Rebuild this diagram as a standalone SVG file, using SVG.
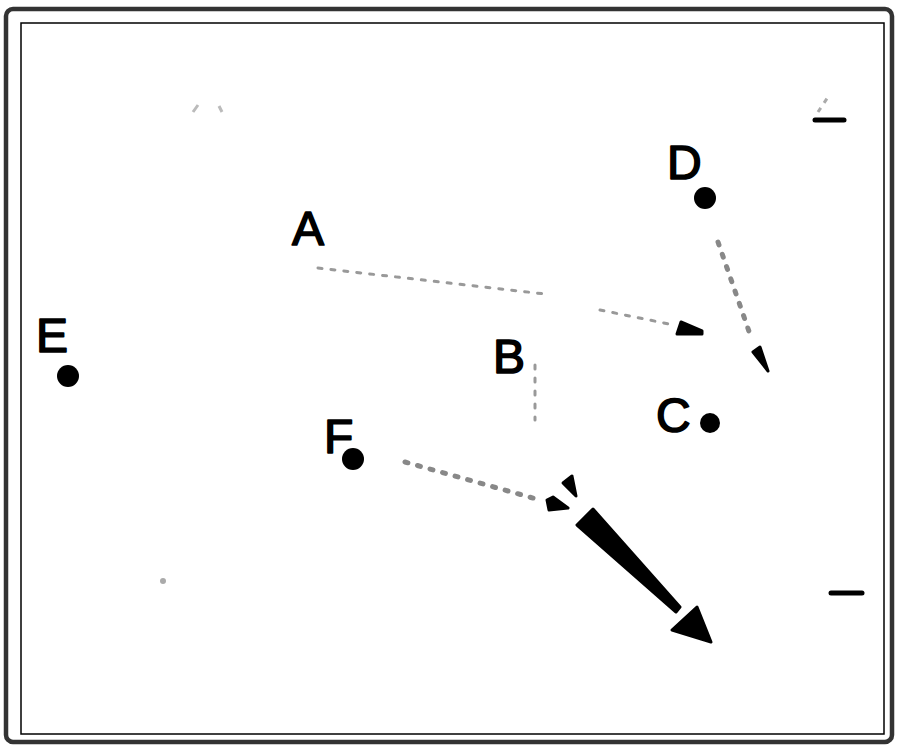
<svg xmlns="http://www.w3.org/2000/svg" width="900" height="752" viewBox="0 0 900 752">
<style>
.lbl{font-family:"Liberation Sans",Arial,sans-serif;font-size:48px;fill:#000;stroke:#000;stroke-width:1.6;stroke-linejoin:round}
.dot{fill:#000}
.faint{fill:none;stroke:#999;stroke-width:3;stroke-dasharray:4 9;stroke-linecap:round}
.blob{fill:none;stroke:#888;stroke-width:5;stroke-dasharray:3 10;stroke-linecap:round}
.head{fill:#000;stroke:#000;stroke-width:3;stroke-linejoin:round}
.bar{stroke:#000;stroke-width:5;stroke-linecap:round}
</style>
<rect x="0" y="0" width="900" height="752" fill="#fff"/>
<g id="frame">
<rect x="6" y="9" width="886" height="733" rx="7" fill="none" stroke="#333" stroke-width="4.5"/>
<rect x="21" y="23" width="863" height="711" fill="none" stroke="#000" stroke-width="1.5"/>
</g>
<g id="connectors">
<path class="faint" d="M318 268 L545 294 M600 310 L674 325"/>
<polygon class="head" points="681,322 702,331 702,334 677,334"/>
<path class="blob" d="M718 242 L752 340"/>
<polygon class="head" points="753,352 760,347 768,371"/>
<path class="blob" d="M405 462 L540 500"/>
<polygon class="head" points="547,500 553,497 568,508 549,510"/>
<path class="faint" d="M535 365 L535 420"/>
<polygon class="head" points="563,483 572,476 576,496"/>
<polygon class="head" points="577,525 593,509 680,607 676,612"/>
<polygon class="head" points="672,630 697,607 711,642"/>
</g>
<g id="node-A"><text class="lbl" x="292" y="245">A</text></g>
<g id="node-B"><text class="lbl" x="493" y="373">B</text></g>
<g id="node-C"><text class="lbl" x="656" y="432">C</text><circle class="dot" cx="710" cy="423" r="10"/></g>
<g id="node-D"><text class="lbl" x="667" y="179">D</text><circle class="dot" cx="705" cy="198" r="11"/></g>
<g id="node-E"><text class="lbl" x="36" y="352">E</text><circle class="dot" cx="68" cy="376" r="11"/></g>
<g id="node-F"><text class="lbl" x="324" y="453">F</text><circle class="dot" cx="353" cy="459" r="11"/></g>
<g id="marks">
<line class="bar" x1="815" y1="120" x2="844" y2="120"/>
<path d="M818 112 L830 94" stroke="#aaa" stroke-width="3" stroke-dasharray="5 6" fill="none"/>
<line class="bar" x1="831" y1="593" x2="862" y2="593"/>
<path d="M193 112 L198 105 M222 112 L219 106" stroke="#bbb" stroke-width="3" fill="none"/>
<circle cx="163" cy="581" r="3" fill="#aaa"/>
</g>
</svg>
